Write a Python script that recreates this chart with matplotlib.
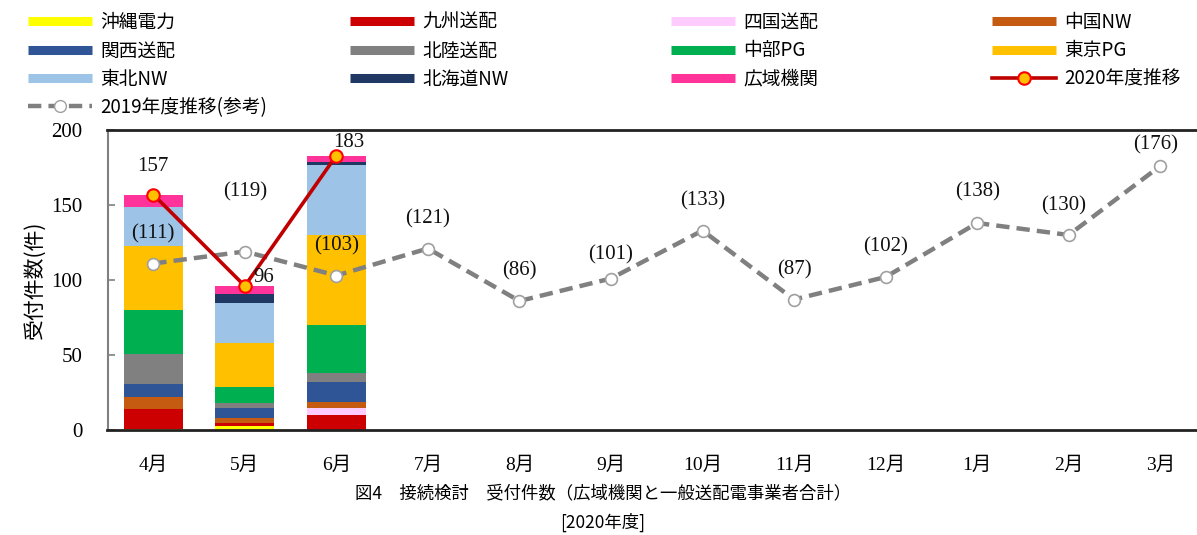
import numpy as np
import matplotlib
matplotlib.use('Agg')
import matplotlib.pyplot as plt
from matplotlib.lines import Line2D

plt.rcParams['font.family'] = ['Noto Sans CJK JP', 'DejaVu Sans']

months = ['4月', '5月', '6月', '7月', '8月', '9月', '10月', '11月', '12月', '1月', '2月', '3月']

# stacked values for 2020 (Apr-Jun), bottom to top
okinawa = [1, 3, 0]
kyushu = [13, 2, 10]
shikoku = [0, 0, 5]
chugoku = [8, 3, 4]
kansai = [9, 7, 13]
hokuriku = [20, 3, 6]
chubu = [29, 11, 32]
tokyo = [43, 29, 60]
tohoku = [26, 27, 47]
hokkaido = [0, 6, 2]
occto = [8, 5, 4]

total_2020 = [157, 96, 183]
total_2019 = [111, 119, 103, 121, 86, 101, 133, 87, 102, 138, 130, 176]

series = [
    ('沖縄電力', okinawa, '#FFFF00'),
    ('九州送配', kyushu, '#CC0000'),
    ('四国送配', shikoku, '#FFCCFF'),
    ('中国NW', chugoku, '#C55A11'),
    ('関西送配', kansai, '#2F5597'),
    ('北陸送配', hokuriku, '#808080'),
    ('中部PG', chubu, '#00B050'),
    ('東京PG', tokyo, '#FFC000'),
    ('東北NW', tohoku, '#9DC3E6'),
    ('北海道NW', hokkaido, '#203864'),
    ('広域機関', occto, '#FF3399'),
]

W, H = 1197, 535
fig = plt.figure(figsize=(W / 100, H / 100), dpi=100)
ax = fig.add_axes([107.5 / W, 1 - 430 / H, (1206 - 107.5) / W, 300 / H])

x = np.arange(len(months))
xb = x[:len(total_2020)]
bottom = np.zeros(len(xb))
for name, vals, col in series:
    ax.bar(xb, vals, width=0.645, bottom=bottom, color=col, zorder=2)
    bottom += np.array(vals)

# 2019 reference line
ax.plot(x, total_2019, color='#808080', lw=3.2, ls=(0, (3, 1.6)), zorder=3)
ax.plot(x, total_2019, ls='none', marker='o', ms=8.5, mfc='white', mec='#A0A0A0',
        mew=1.2, zorder=4)
# 2020 line
ax.plot(xb, total_2020, color='#C00000', lw=2.6, marker='o', ms=9, mfc='#FFC000',
        mec='#FF0000', mew=1.5, zorder=5)

num_font = dict(family=['Liberation Serif', 'DejaVu Serif'], fontsize=15, color='#111111')
offs_2019 = [(0, 30), (0, 60), (0, 30), (0, 30), (0, 30), (0, 24), (0, 30), (0, 30),
             (0, 30), (0, 31), (-5, 29), (-5, 21)]
for xi, v, off in zip(x, total_2019, offs_2019):
    ax.annotate(f'({v})', (xi, v), xytext=off, textcoords='offset pixels',
                ha='center', va='center', zorder=6, **num_font)
offs_2020 = [(0, 28), (19, 9), (12, 13)]
for xi, v, off in zip(xb, total_2020, offs_2020):
    ax.annotate(f'{v}', (xi, v), xytext=off, textcoords='offset pixels',
                ha='center', va='center', zorder=6, **num_font)

ax.set_xlim(-0.5, len(months) - 0.5)
ax.set_ylim(0, 200)
ax.set_yticks([0, 50, 100, 150, 200])
ax.set_xticks(x)
ax.set_xticklabels(months, family=['Liberation Serif', 'Noto Sans CJK JP'], fontsize=14)
for lab in ax.get_yticklabels():
    lab.set_family(['Liberation Serif', 'DejaVu Serif'])
    lab.set_fontsize(15)
ax.tick_params(axis='y', direction='in', length=5, width=1.2, color='#808080', pad=18)
ax.tick_params(axis='x', length=0, pad=19)
ax.spines['right'].set_visible(False)
ax.spines['left'].set_color('#808080')
ax.spines['left'].set_linewidth(1.5)
ax.spines['top'].set_color('#222222')
ax.spines['top'].set_linewidth(2)
ax.spines['bottom'].set_color('#222222')
ax.spines['bottom'].set_linewidth(2)
ax.set_ylabel('受付件数(件)', fontsize=15, labelpad=4)

fig.text(603 / W, 1 - 493 / H, '図4　接続検討　受付件数（広域機関と一般送配電事業者合計）',
         ha='center', va='center', fontsize=12.5)
fig.text(603 / W, 1 - 522 / H, '[2020年度]', ha='center', va='center', fontsize=12.5)

# legend, four columns placed separately
def bar_handle(col):
    return Line2D([], [], color=col, lw=6.5, solid_capstyle='butt')

cols = dict((n, c) for n, _, c in series)
h2019 = Line2D([], [], color='#808080', lw=3.2, ls=(0, (3, 1.6)), marker='o', ms=8.5,
               mfc='white', mec='#A0A0A0')
h2020 = Line2D([], [], color='#C00000', lw=2.6, marker='o', ms=9, mfc='#FFC000',
               mec='#FF0000', mew=1.5)
legend_cols = [
    (28, [('沖縄電力', bar_handle(cols['沖縄電力'])), ('関西送配', bar_handle(cols['関西送配'])),
          ('東北NW', bar_handle(cols['東北NW'])), ('2019年度推移(参考)', h2019)]),
    (350, [('九州送配', bar_handle(cols['九州送配'])), ('北陸送配', bar_handle(cols['北陸送配'])),
           ('北海道NW', bar_handle(cols['北海道NW']))]),
    (671, [('四国送配', bar_handle(cols['四国送配'])), ('中部PG', bar_handle(cols['中部PG'])),
           ('広域機関', bar_handle(cols['広域機関']))]),
    (992, [('中国NW', bar_handle(cols['中国NW'])), ('東京PG', bar_handle(cols['東京PG'])),
           ('2020年度推移', h2020)]),
]
for px, items in legend_cols:
    labels = [l for l, _ in items]
    handles = [h for _, h in items]
    fig.legend(handles, labels, loc='upper left', bbox_to_anchor=(px / W, 1 - 12 / H),
               frameon=False, borderpad=0, borderaxespad=0, handlelength=3.4,
               handletextpad=0.45, labelspacing=0.39, fontsize=13.5)

fig.savefig('out.png', dpi=100, facecolor='white')
